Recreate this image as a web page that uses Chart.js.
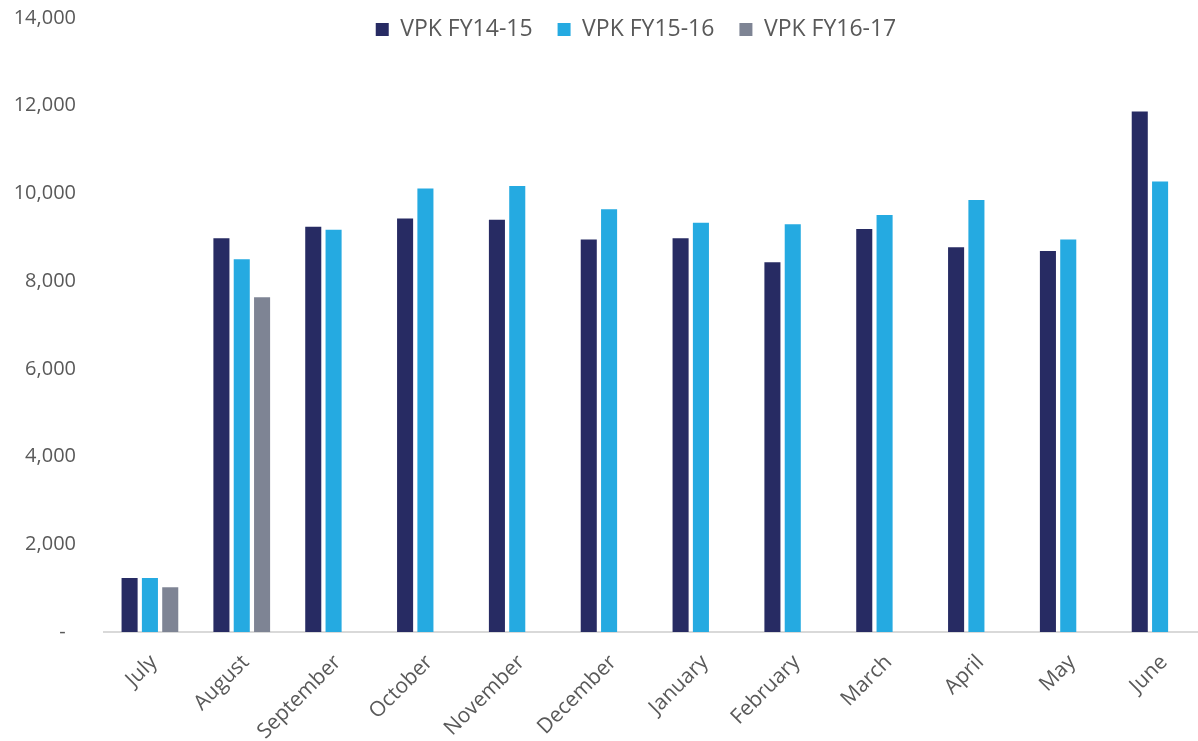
<!DOCTYPE html>
<html>
<head>
<meta charset="utf-8">
<script src="https://cdn.jsdelivr.net/npm/chart.js@4"></script>
<style>
  html, body { margin: 0; padding: 0; background: #fff; overflow: hidden; }
  #wrap { width: 1206px; height: 741px; }
</style>
</head>
<body>
<div id="wrap"><canvas id="Chart"></canvas></div>
<script>
// data
const months = ["July", "August", "September", "October", "November", "December",
  "January", "February", "March", "April", "May", "June"];
const fy1415 = [1230, 8980, 9240, 9430, 9400, 8950, 8980, 8430, 9190, 8770, 8690, 11870];
const fy1516 = [1230, 8500, 9170, 10110, 10170, 9640, 9330, 9300, 9510, 9850, 8950, 10270];
const fy1617 = [1020, 7630, null, null, null, null, null, null, null, null, null, null];
const yTicks = [0, 2000, 4000, 6000, 8000, 10000, 12000, 14000];

const textColor = "#595959";
const font = "'Open Sans', sans-serif";

// legend takes no room and sits over the top of the plot, like Excel does
const legendShift = {
  id: "legendShift",
  afterLayout(chart) {
    const lg = chart.legend;
    const dx = 33;
    lg.left += dx; lg.right += dx;
    lg.top = -7; lg.bottom = 60;
  }
};

new Chart(document.getElementById("Chart"), {
  type: "bar",
  data: {
    labels: months,
    datasets: [
      { label: "VPK FY14-15", data: fy1415, backgroundColor: "#272b63" },
      { label: "VPK FY15-16", data: fy1516, backgroundColor: "#25aae1" },
      { label: "VPK FY16-17", data: fy1617, backgroundColor: "#7e8494" }
    ]
  },
  options: {
    responsive: true,
    maintainAspectRatio: false,
    animation: false,
    datasets: { bar: { categoryPercentage: 0.664, barPercentage: 0.79 } },
    layout: { padding: { top: 17, right: 0, left: 0, bottom: 0 } },
    plugins: {
      legend: {
        position: "top",
        align: "center",
        maxHeight: 1,
        labels: {
          boxWidth: 13, boxHeight: 13, padding: 25,
          color: textColor, font: { family: font, size: 23 }
        }
      },
      tooltip: { enabled: false }
    },
    scales: {
      x: {
        grid: { display: false, drawTicks: false },
        border: { display: true, color: "#d9d9d9", width: 2 },
        ticks: {
          autoSkip: false, maxRotation: 45, minRotation: 45,
          padding: 18, labelOffset: 4,
          color: textColor, font: { family: font, size: 21 }
        },
        afterFit(scale) { scale.height = 109; }
      },
      y: {
        min: 0, max: 14000,
        grid: { display: false, drawTicks: false },
        border: { display: false },
        afterBuildTicks(scale) { scale.ticks = yTicks.map(v => ({ value: v })); },
        ticks: {
          padding: 28,
          color: textColor, font: { family: font, size: 20 },
          callback: v => v === 0 ? "-  " : v.toLocaleString("en-US")
        },
        afterFit(scale) {
          scale.width = 104;
          scale.paddingTop = 0;
          scale.paddingBottom = 0;
        }
      }
    }
  },
  plugins: [legendShift]
});
</script>
</body>
</html>
